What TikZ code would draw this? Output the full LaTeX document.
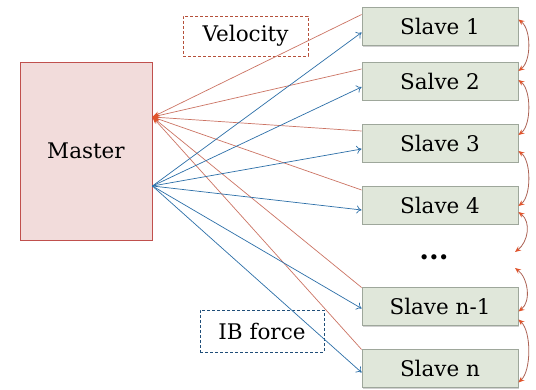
\documentclass[tikz,border=0pt]{standalone}
\usepackage{fontspec}
\setmainfont{DejaVu Serif}
\usetikzlibrary{arrows.meta,shadows,calc}
\definecolor{masterfill}{HTML}{F2DCDB}
\definecolor{masterdraw}{HTML}{C0504D}
\definecolor{slavefill}{HTML}{E0E7DA}
\definecolor{slavedraw}{HTML}{9EA79B}
\definecolor{redline}{HTML}{CC7464}
\definecolor{redtip}{HTML}{E0532B}
\definecolor{blueline}{HTML}{2C6FA8}
\definecolor{veldraw}{HTML}{B5503A}
\definecolor{ibdraw}{HTML}{1F4E79}
\tikzset{
  txt/.style={font=\fontsize{21.5}{26}\selectfont},
  masterbox/.style={txt, draw=masterdraw, fill=masterfill, line width=0.8pt, minimum width=132pt, minimum height=178pt, inner sep=0pt},
  slavebox/.style={txt, draw=slavedraw, fill=slavefill, line width=0.8pt, minimum width=156pt, minimum height=38pt, inner sep=0pt,
     drop shadow={shadow xshift=1.2pt, shadow yshift=-1.2pt, fill=black!30, opacity=0.6}},
  velbox/.style={txt, draw=veldraw, densely dashed, line width=0.6pt, minimum width=125pt, minimum height=40pt, inner sep=0pt},
  ibbox/.style={txt, draw=ibdraw, densely dashed, line width=0.6pt, minimum width=124pt, minimum height=42pt, inner sep=0pt},
  redarrow/.style={draw=redline, line width=0.7pt, -{Stealth[length=7pt,width=5pt,color=redtip]}},
  bluearrow/.style={draw=blueline, line width=0.7pt, -{To[length=5pt,width=8pt]}},
  linkarrow/.style={draw=redline!85!black, line width=0.8pt, {Stealth[length=6pt,width=5pt,color=redtip]}-{Stealth[length=6pt,width=5pt,color=redtip]}}
}
\begin{document}
\begin{tikzpicture}[x=1pt,y=-1pt]
\useasboundingbox (0,0) rectangle (536,390);
\fill[white] (0,0) rectangle (536,390);

% boxes
\node[velbox] (vel) at (245.5,36) {Velocity};
\node[ibbox] (ib) at (262,331) {IB force};
\node[masterbox] (master) at (86,151) {Master};

\node[slavebox] (s1) at (440,26.5) {Slave 1};
\node[slavebox] (s2) at (440,81) {Salve 2};
\node[slavebox] (s3) at (440,143) {Slave 3};
\node[slavebox] (s4) at (440,205) {Slave 4};
\node[font=\fontsize{28}{30}\selectfont\bfseries, inner sep=0pt] (dots) at (434,257) {...};
\node[slavebox] (sn1) at (440,306.5) {Slave n-1};
\node[slavebox] (sn) at (440,368.5) {Slave n};

% anchor points on master
\coordinate (mred) at ($(master.east)+(0,-34)$);
\coordinate (mblue) at ($(master.east)+(0,35)$);

% red lines (slaves -> master)
\draw[redarrow] ($(s1.west)+(0,-12)$) -- (mred);
\draw[redarrow] ($(s2.west)+(0,-12)$) -- (mred);
\draw[redarrow] ($(s3.west)+(0,-12)$) -- (mred);
\draw[redarrow] ($(s4.west)+(0,-15)$) -- (mred);
\draw[redarrow] ($(sn1.west)+(0,-19)$) -- (mred);
\draw[redarrow] ($(sn.west)+(0,-19)$) -- (mred);

% blue lines (master -> slaves)
\draw[bluearrow] (mblue) -- ($(s1.west)+(0,6)$);
\draw[bluearrow] (mblue) -- ($(s2.west)+(0,6)$);
\draw[bluearrow] (mblue) -- ($(s3.west)+(0,6)$);
\draw[bluearrow] (mblue) -- ($(s4.west)+(0,5)$);
\draw[bluearrow] (mblue) -- ($(sn1.west)+(0,2)$);
\draw[bluearrow] (mblue) -- ($(sn.west)+(0,4)$);

% links between neighbouring slaves
\coordinate (d1) at (515,252);
\coordinate (d2) at (515,268);
\draw[linkarrow] ($(s1.east)+(0,-7)$) .. controls +(13,10) and +(13,-10) .. ($(s2.east)+(0,-10)$);
\draw[linkarrow] ($(s2.east)+(0,-1)$) .. controls +(13,10) and +(13,-10) .. ($(s3.east)+(0,-8)$);
\draw[linkarrow] ($(s3.east)+(0,8)$) .. controls +(13,10) and +(13,-10) .. ($(s4.east)+(0,1)$);
\draw[linkarrow] ($(s4.east)+(0,7)$) .. controls +(13,10) and +(13,-10) .. (d1);
\draw[linkarrow] (d2) .. controls +(13,10) and +(13,-10) .. ($(sn1.east)+(0,5)$);
\draw[linkarrow] ($(sn1.east)+(0,13)$) .. controls +(13,12) and +(13,-12) .. ($(sn.east)+(0,14)$);
\end{tikzpicture}
\end{document}
